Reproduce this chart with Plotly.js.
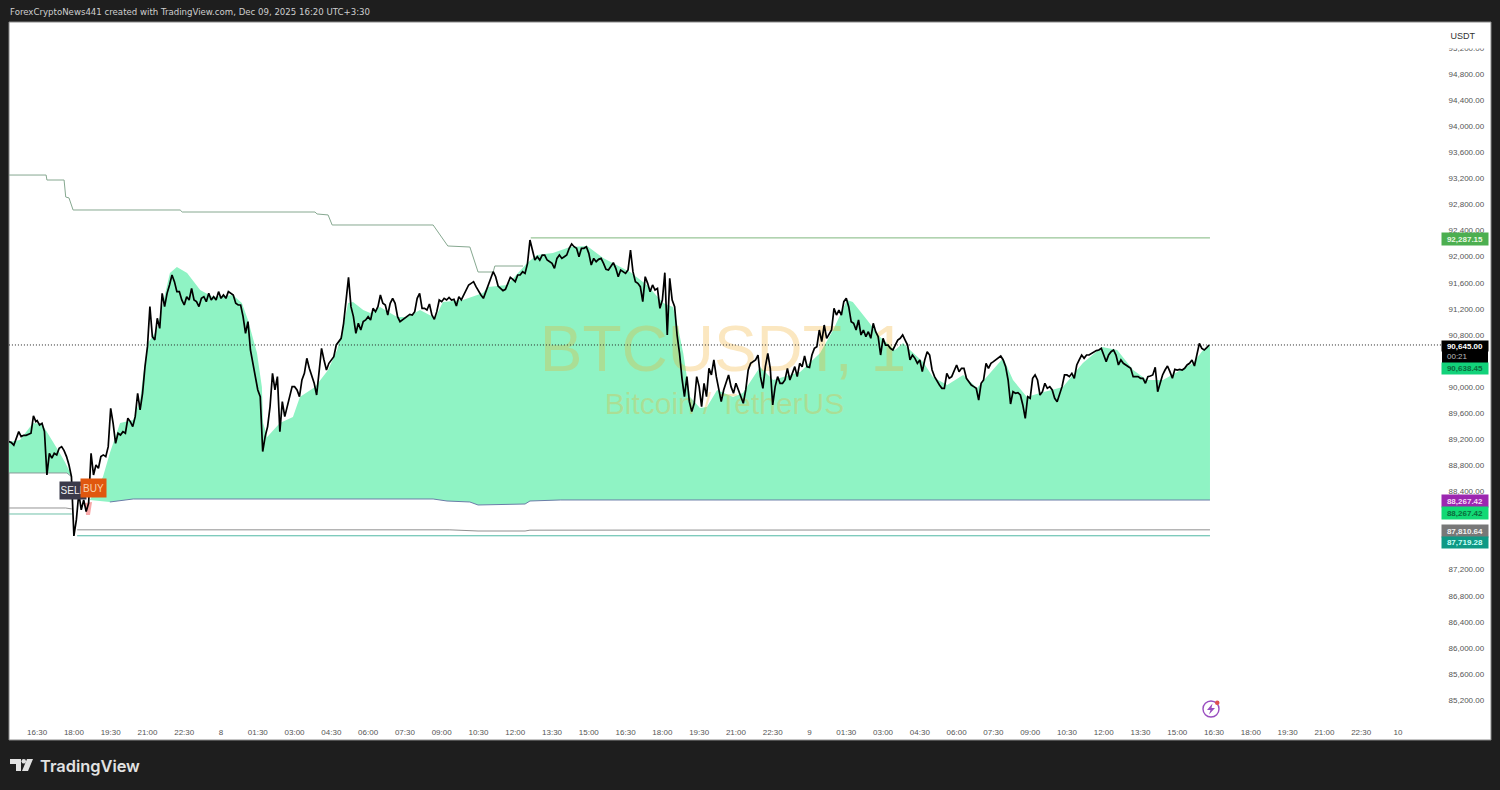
<!DOCTYPE html>
<html><head><meta charset="utf-8">
<script src="https://cdn.plot.ly/plotly-3.0.1.min.js"></script>
<style>html,body{margin:0;padding:0;background:#1e1e1e}#c{width:1500px;height:790px}</style>
</head><body><div id="c"></div>
<script>
// Time is minutes since 7 Dec 00:00. Price readings in 6-minute steps, grouped by 90-minute window.
const w0=[89163,89148,89107,89199,89316,89240,89260,89260,89270,89291,89557,89470];
const w1=[89485,89419,89444,89316,88652,88984,88908,88984,88959,89061,89086,89025,88933,88805,88627];
const w2=[87717,87962,88371,88116,88269,88090,88218,88984,88652,88805,88754,88933,88959,88933,89086];
const w3=[89674,89444,89137,89291,89265,89316,89291,89521,89470,89393,89546,89904,89649,89904,90313];
const w4=[90619,91233,90773,90722,91054,90900,91437,91233,91437,91565,91718,91616,91463,91463,91335];
const w5=[91258,91386,91335,91514,91335,91309,91233,91360,91386,91309,91437,91335,91386,91335,91463];
const w6=[91360,91411,91360,91463,91437,91411,91284,91258,91258,91079,90824,91003,90568,90364,90159];
const w7=[89955,89853,89010,89240,89393,89700,90211,89955,90159,89316,89776,89546,89700,89827,90006];
const w8=[90006,89955,89853,90108,90211,90441,90287,90159,90057,89878,90236,90594,90415,90262,90364];
const w9=[90415,90466,90645,90696,90747,90977,91386,91682,91233,91079,90824,90977,90875,91003,91028];
const w10=[91079,91028,91207,91156,91233,91411,91284,91258,91105,91284,91360,91284,91079,91003,91028];
const w11=[91053,91089,91115,91105,91156,91360,91437,91207,91207,91181,91273,91105,91038,91156,91335];
const w12=[91309,91360,91335,91375,91335,91345,91243,91386,91335,91411,91473,91565,91590,91616,91539];
const w13=[91462,91411,91360,91462,91565,91692,91769,91692,91549,91513,91478,91498,91590,91682,91651];
const w14=[91616,91718,91718,91769,91743,91897,92254,92101,91948,91999,91948,92024,92024,91948,91922];
const w15=[91897,91820,91973,92024,91973,91999,92024,92127,92193,92152,92127,91999,92127,92127,92152];
const w16=[92050,91871,91973,91922,91958,91973,91897,91805,91795,91846,91907,91820,91692,91795,91769];
const w17=[91743,91795,92101,91769,91616,91590,91539,91309,91692,91590,91462,91565,91488,91513,91207];
const w18=[91335,91754,90798,91667,91335,91232,90798,90517,90134,89853,90159,89776,89623,89751,90159];
const w19=[90006,89699,90057,89853,90287,90185,90415,90159,89955,89776,89955,90057,90185,90006,89904];
const w20=[90057,89955,89878,89751,89955,90261,90364,90389,90415,90491,90159,89980,90313,90517,90287];
const w21=[89725,90006,90159,90057,90057,90108,90287,90108,90210,90313,90159,90364,90312,90476,90312];
const w22=[90302,90491,90593,90619,90874,90696,90951,90747,90823,90874,91207,91104,91181,91104,91309];
const w23=[91360,91232,91002,90977,90874,91028,90798,90874,90772,90849,90747,90977,90849,90772,90491];
const w24=[90747,90644,90644,90593,90568,90644,90721,90747,90798,90721,90644,90415,90491,90440,90364];
const w25=[90415,90236,90415,90542,90491,90261,90159,90082,90031,89980,89980,90210,90134,90159,90261];
const w26=[90338,90236,90287,90287,90134,90082,90031,90006,89980,89801,90057,90108,90364,90287,90364];
const w27=[90389,90415,90440,90476,90415,90312,90108,89740,89929,89904,89914,89878,89725,89520,89852];
const w28=[89827,90134,90185,90108,89878,89929,90057,89980,90006,89955,89827,89776,89904,90006,90185];
const w29=[90185,90159,90210,90134,90338,90415,90491,90440,90491,90491,90517,90542,90558,90568,90593];
const w30=[90491,90389,90491,90542,90568,90491,90338,90415,90364,90338,90312,90287,90159,90159,90159];
const w31=[90134,90134,90057,90159,90169,90185,90302,89929,90057,90185,90261,90323,90236,90134,90271];
const w32=[90261,90271,90261,90287,90338,90364,90415,90323,90491,90670,90593,90568,90604,90645];
const windows=[w0,w1,w2,w3,w4,w5,w6,w7,w8,w9,w10,w11,w12,w13,w14,w15,w16,w17,w18,w19,w20,w21,w22,w23,w24,w25,w26,w27,w28,w29,w30,w31,w32];
const windowStarts=[921,990,1080,1170,1260,1350,1440,1530,1620,1710,1800,1890,1980,2070,2160,2250,2340,2430,2520,2610,2700,2790,2880,2970,3060,3150,3240,3330,3420,3510,3600,3690,3780];

// Green zone: earlier block
const zoneAT=[921,948,980,1002,1014,1041,1058,1075,1063,921];
const zoneAP=[89157,89188,89448,89433,89310,89034,88850,88636,88682,88682];
// Green zone: main block, upper edge
const zoneTopT=[1119,1151,1168,1193,1225,1242,1249,1261,1283,1298,1315,1332,1357,1389,1420,1469,1491,1506,1528,1540,1543,1553,1584,1616,1633,1670,1702,1724,1739,1751,1763,1788,1805,1829,1871,1895,1927,1964,1983,2032,2081,2093,2140,2189,2213,2252,2294,2336,2375,2441,2482,2522,2546,2558,2571,2580,2588,2612,2629,2654,2693,2717,2759,2791,2857,2906,2938,2972,2986,3021,3053,3089,3109,3126,3158,3182,3217,3256,3290,3354,3378,3412,3444,3500,3549,3596,3633,3672,3706,3745,3819,3843,3860];
const zoneTopP=[88268,88620,88988,89448,89494,89801,90154,90675,90874,91288,91749,91841,91749,91488,91381,91411,91288,91028,90522,90000,89448,89234,89448,89540,89847,90000,90261,90568,90920,91288,91304,91181,91135,91227,91074,91074,91181,91058,91304,91335,91442,91534,91565,91902,92025,92055,92147,92163,91979,91764,91565,91288,91227,90920,90522,90154,89847,89678,89694,89954,89847,89908,90307,90108,90231,90522,90874,91335,91304,91028,90767,90568,90675,90568,90384,90154,90031,90184,89985,90445,90108,89847,89908,90000,90368,90614,90568,90261,90108,90108,90368,90568,90638];
// Lower edge of the zone
const zoneLowT=[1119,1168,1225,1959,1993,2049,2069,2184,2196,2270,3860];
const zoneLowP=[88268,88237,88283,88283,88252,88237,88191,88206,88252,88268,88267];

// Level lines
const upperT=[921,1012,1014,1056,1060,1068,1078,1340,1345,1670,1675,1702,1712,1959,1995,2049,2069,2106,2110,2179];
const upperP=[93251,93251,93175,93175,92914,92900,92715,92715,92684,92684,92654,92639,92485,92485,92163,92147,91764,91764,91856,91856];
const topLevelT=[2198,3860];  const topLevelP=[92287,92287];
const oldBandT=[921,1063,1075]; const oldBandP=[88682,88682,88620];
const oldGrayT=[921,1060,1075]; const oldGrayP=[88145,88145,88130];
const oldGreenT=[921,1075];     const oldGreenP=[88053,88053];
const grayT=[1088,2000,2069,2184,2196,3860]; const grayP=[87810,87810,87792,87792,87805,87810];
const tealT=[1088,3860];        const tealP=[87719,87719];
const lastPrice=90645;

// Axis labels
const timeLabels=['16:30','18:00','19:30','21:00','22:30','8','01:30','03:00','04:30','06:00','07:30','09:00','10:30','12:00','13:30','15:00','16:30','18:00','19:30','21:00','22:30','9','01:30','03:00','04:30','06:00','07:30','09:00','10:30','12:00','13:30','15:00','16:30','18:00','19:30','21:00','22:30','10'];
const timeTicks=[990,1080,1170,1260,1350,1440,1530,1620,1710,1800,1890,1980,2070,2160,2250,2340,2430,2520,2610,2700,2790,2880,2970,3060,3150,3240,3330,3420,3510,3600,3690,3780,3870,3960,4050,4140,4230,4320];
const priceTicks=[85200,85600,86000,86400,86800,87200,88400,88800,89200,89600,90000,90800,91200,91600,92000,92400,92800,93200,93600,94000,94400,94800,95200];

// Price tags at the right
const tagTexts=['92,287.15','90,645.00','90,638.45','88,267.42','88,267.42','87,810.64','87,719.28'];
const tagBg=['#4caf50','#000000','#12d27a','#9c27b0','#12d975','#787878','#0f9985'];
const tagFg=['#e8f8e0','#ffffff','#0c6b3c','#f8d8f8','#0c6b3c','#f0f0f0','#c8fff8'];

// ---- layout helpers (pixels of the 1500x790 picture to paper fractions)
const W=1500,H=790,L=9,R=1443,T=22,B=716;
const fx=p=>(p-L)/(R-L), fy=p=>(B-p)/(B-T);
const pathOf=pts=>'M'+pts.map(p=>fx(p[0])+','+fy(p[1])).join('L')+'Z';
const shp=(o)=>Object.assign({xref:'paper',yref:'paper',layer:'above',line:{width:0}},o);

let lineT=[],lineP=[];
windows.forEach((w,k)=>w.forEach((v,i)=>{lineT.push(windowStarts[k]+i*6);lineP.push(v);}));

const levelLine=(x,y,color,w)=>({x,y,type:'scatter',mode:'lines',line:{color,width:w||1},hoverinfo:'skip',showlegend:false});
const MINT='#8ff3c4';
const WM='rgba(240,170,30,0.28)';
const lbx=[...zoneTopT,...zoneLowT.slice().reverse()], lby=[...zoneTopP,...zoneLowP.slice().reverse()];
const data=[
 {x:zoneAT,y:zoneAP,type:'scatter',mode:'none',fill:'toself',fillcolor:MINT,hoverinfo:'skip',showlegend:false},
 {x:lbx,y:lby,type:'scatter',mode:'none',fill:'toself',fillcolor:MINT,hoverinfo:'skip',showlegend:false},
 {x:[2668],y:[90493],type:'scatter',mode:'text',text:['BTCUSDT, 1'],textposition:'middle center',textfont:{family:'Liberation Sans',size:64,color:WM},cliponaxis:false,hoverinfo:'skip',showlegend:false},
 {x:[2672],y:[89694],type:'scatter',mode:'text',text:['Bitcoin / TetherUS'],textposition:'middle center',textfont:{family:'Liberation Sans',size:30,color:WM},cliponaxis:false,hoverinfo:'skip',showlegend:false},
 levelLine(upperT,upperP,'#86a890'),
 levelLine(topLevelT,topLevelP,'#7fb77e'),
 levelLine(oldBandT,oldBandP,'#8a9a9a'),
 levelLine(oldGrayT,oldGrayP,'#949494'),
 levelLine(oldGreenT,oldGreenP,'#6fc0a8'),
 levelLine(grayT,grayP,'#8f8f8f'),
 levelLine(tealT,tealP,'#4fb8a4'),
 levelLine(zoneLowT.slice(1),zoneLowP.slice(1),'#6b7da8'),
 {x:[921,4430],y:[lastPrice,lastPrice],type:'scatter',mode:'lines',line:{color:'#222',width:1,dash:'1px,2px'},hoverinfo:'skip',showlegend:false},
 {x:lineT,y:lineP,type:'scatter',mode:'lines',line:{color:'#000',width:1.7},hoverinfo:'skip',showlegend:false}
];

const ann=(x,y,text,size,color,o)=>Object.assign({xref:'paper',yref:'paper',x:fx(x),y:fy(y),text,showarrow:false,font:{family:'Liberation Sans',size,color},xanchor:'center',yanchor:'middle'},o||{});
const tagY=[239,346,368.5,501,513,531,542.5], tagH=[12,10,11,12,12,12,11];
const annotations=[
 ann(8,12,'ForexCryptoNews441 created with TradingView.com, Dec 09, 2025 16:20 UTC+3:30',8.6,'#cfcfcf',{xanchor:'left',font:{family:'DejaVu Sans',size:8.6,color:'#cfcfcf'}}),
 ann(1463,36,'USDT',9,'#333',{bgcolor:'#ffffff',width:44,height:22}),
 ann(38,766,'TradingView',16.4,'#e2e2e2',{xanchor:'left',font:{family:'Inter',size:16.4,color:'#e2e2e2',weight:600}}),
 ann(73,490.5,'SELL',10,'#f0f0f0',{bgcolor:'#3b3a4a',width:24,height:15}),
 ann(93.5,488,'BUY',10,'#f8d0a8',{bgcolor:'#e0570e',width:23,height:16}),
];
tagTexts.forEach((t,i)=>annotations.push(ann(1465,tagY[i],'<b>'+t+'</b>',8,tagFg[i],{bgcolor:tagBg[i],width:46,height:tagH[i],borderpad:0})));
annotations.push(ann(1457,356.5,'00:21',8,'#bdbdbd'));

const shapes=[
 shp({type:'rect',x0:fx(9),x1:fx(1491),y0:fy(22),y1:fy(740),fillcolor:'#ffffff',layer:'below',line:{color:'#888',width:1}}),
 shp({type:'path',path:pathOf([[85,503],[92,502],[90,515],[86,515]]),fillcolor:'#f8a8a8',layer:'below'}),
 shp({type:'rect',x0:fx(1442),x1:fx(1488),y0:fy(350),y1:fy(363),fillcolor:'#000000'}),
 // TradingView mark
 shp({type:'path',path:pathOf([[10,759],[21,759],[21,771],[16,771],[16,764],[10,764]]),fillcolor:'#e2e2e2'}),
 shp({type:'path',path:pathOf([[27,759],[33,759],[28,771],[22,771]]),fillcolor:'#e2e2e2'}),
 shp({type:'circle',x0:fx(21.5),x1:fx(26),y0:fy(759),y1:fy(763.5),fillcolor:'#e2e2e2'}),
 // alert icon
 shp({type:'circle',x0:fx(1203),x1:fx(1219),y0:fy(701),y1:fy(717),fillcolor:'rgba(0,0,0,0)',line:{color:'#9a4fc0',width:1.4}}),
 shp({type:'path',path:pathOf([[1212.5,703.5],[1207,710],[1210.5,710],[1209,714.5],[1215,708],[1211.5,708]]),fillcolor:'#9a4fc0'}),
 shp({type:'circle',x0:fx(1215),x1:fx(1219.5),y0:fy(700.5),y1:fy(705),fillcolor:'#e05050'})
];

const layout={
 width:W,height:H,autosize:false,
 margin:{l:L,r:W-R,t:T,b:H-B,pad:0},
 paper_bgcolor:'#1e1e1e',plot_bgcolor:'rgba(0,0,0,0)',
 showlegend:false,hovermode:false,
 xaxis:{range:[921.2,4430.2],tickmode:'array',tickvals:timeTicks,ticktext:timeLabels,tickangle:0,showgrid:false,zeroline:false,showline:false,ticks:'outside',ticklen:8,tickcolor:'rgba(0,0,0,0)',tickfont:{family:'Liberation Sans',size:8,color:'#555'}},
 yaxis:{side:'right',range:[84955,95598],tickmode:'array',tickvals:priceTicks,ticktext:priceTicks.map(v=>v.toLocaleString('en-US',{minimumFractionDigits:2})),showgrid:false,zeroline:false,showline:false,ticks:'outside',ticklen:3,tickcolor:'rgba(0,0,0,0)',tickfont:{family:'Liberation Sans',size:8,color:'#555'}},
 shapes,annotations
};
Plotly.newPlot('c',data,layout,{displayModeBar:false,staticPlot:true});
</script></body></html>
